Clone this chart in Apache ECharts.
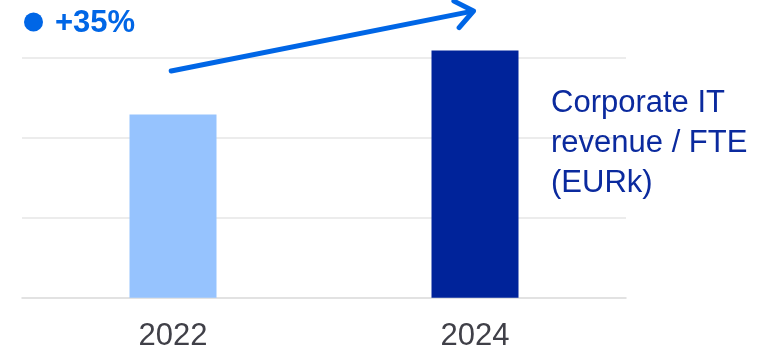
<!DOCTYPE html>
<html>
<head>
<meta charset="utf-8">
<script src="https://cdn.jsdelivr.net/npm/echarts@6/dist/echarts.min.js"></script>
<style>
  html, body { margin: 0; padding: 0; background: #ffffff; }
  #chart { width: 782px; height: 354px; }
</style>
</head>
<body>
<div id="chart"></div>
<script>
// Corporate IT revenue per FTE, indexed bars for two years
const years = ['2022', '2024'];
const revenuePerFte = [2.29, 3.09];
const barColors = ['#96C3FE', '#00239A'];
const growthLabel = '+35%';
const seriesLabel = 'Corporate IT\nrevenue / FTE\n(EURk)';

const FONT = '"Liberation Sans", Arial, sans-serif';
const ACCENT = '#0066E6';

const chart = echarts.init(document.getElementById('chart'), null, { renderer: 'canvas' });

chart.setOption({
  animation: false,
  grid: { left: 22, right: 156, top: 17.7, bottom: 56.3, containLabel: false },
  xAxis: {
    type: 'category',
    data: years,
    axisLine: { show: true, lineStyle: { color: '#d9d9d9', width: 1.5 } },
    axisTick: { show: false },
    axisLabel: { color: '#404048', fontSize: 31, fontFamily: FONT, margin: 23 }
  },
  yAxis: {
    type: 'value',
    min: 0,
    max: 3.5,
    interval: 1,
    axisLine: { show: false },
    axisTick: { show: false },
    axisLabel: { show: false },
    splitLine: { show: true, showMinLine: false, showMaxLine: false, lineStyle: { color: '#e6e6e6', width: 1.5 } }
  },
  series: [{
    type: 'bar',
    barWidth: 87,
    data: revenuePerFte.map((v, i) => ({ value: v, itemStyle: { color: barColors[i] } })),
    z: 3
  }]
});

// Growth arrow between the two bars, placed from axis positions
function drawAnnotations() {
  const p0 = chart.convertToPixel({ gridIndex: 0 }, [0, 0]);
  const p1 = chart.convertToPixel({ gridIndex: 0 }, [1, 0]);
  const yTop = chart.convertToPixel({ gridIndex: 0 }, [0, 3.5])[1];
  const start = [p0[0] - 1.8, yTop + 53.3];
  const end = [p1[0] - 1.5, yTop - 6.7];
  const back = Math.atan2(start[1] - end[1], start[0] - end[0]);
  const headLen = 22, spread = 38 * Math.PI / 180;
  const arm1 = [end[0] + headLen * Math.cos(back + spread), end[1] + headLen * Math.sin(back + spread)];
  const arm2 = [end[0] + headLen * Math.cos(back - spread), end[1] + headLen * Math.sin(back - spread)];

  chart.setOption({
    graphic: [
      {
        type: 'line',
        shape: { x1: start[0], y1: start[1], x2: end[0] - 2, y2: end[1] + 0.4 },
        style: { stroke: ACCENT, lineWidth: 5, lineCap: 'round' },
        z: 10
      },
      {
        type: 'polyline',
        shape: { points: [arm1, end, arm2] },
        style: { stroke: ACCENT, fill: null, lineWidth: 5, lineCap: 'round', lineJoin: 'round' },
        z: 10
      },
      {
        type: 'circle',
        shape: { cx: 33.5, cy: 22, r: 9.5 },
        style: { fill: ACCENT },
        z: 10
      },
      {
        type: 'text',
        left: 55,
        top: 8,
        style: { text: growthLabel, fill: ACCENT, font: 'bold 31px ' + FONT },
        z: 10
      },
      {
        type: 'text',
        left: 551,
        top: 83,
        style: { text: seriesLabel, fill: '#0B2A9E', font: '31px ' + FONT, lineHeight: 40 },
        z: 10
      }
    ]
  });
}
drawAnnotations();
</script>
</body>
</html>
